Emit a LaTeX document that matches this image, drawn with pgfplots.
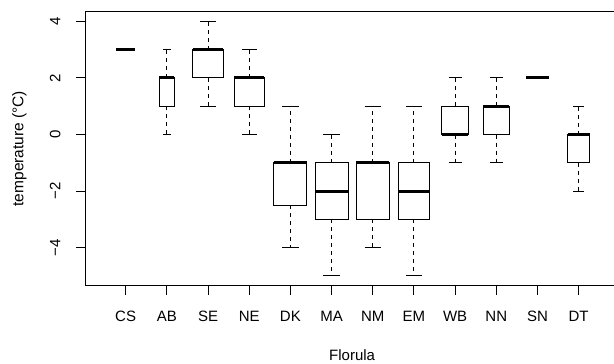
\documentclass[border=0pt]{standalone}
\usepackage{pgfplots}
\pgfplotsset{compat=1.18}
\usepgfplotslibrary{statistics}
\usepackage{fontspec}
\setmainfont{Liberation Sans}
\pgfplotsset{
  rbox/.style={
    black, solid, line width=1pt, mark=none,
    boxplot/draw direction=y,
    boxplot/every box/.style={draw=black, line width=1pt},
    boxplot/every median/.style={black, line width=3pt},
    boxplot/whisker extend=\pgfkeysvalueof{/pgfplots/boxplot/box extend}*0.5,
    boxplot/draw/lower whisker/.code={%
      \draw[black, line width=1pt, dash pattern=on 4pt off 4pt]
        (boxplot cs:\pgfplotsboxplotvalue{lower quartile})
        -- (boxplot cs:\pgfplotsboxplotvalue{lower whisker});
      \draw[black, line width=1pt]
        (boxplot whisker cs:\pgfplotsboxplotvalue{lower whisker},0)
        -- (boxplot whisker cs:\pgfplotsboxplotvalue{lower whisker},1);
    },
    boxplot/draw/upper whisker/.code={%
      \draw[black, line width=1pt, dash pattern=on 4pt off 4pt]
        (boxplot cs:\pgfplotsboxplotvalue{upper quartile})
        -- (boxplot cs:\pgfplotsboxplotvalue{upper whisker});
      \draw[black, line width=1pt]
        (boxplot whisker cs:\pgfplotsboxplotvalue{upper whisker},0)
        -- (boxplot whisker cs:\pgfplotsboxplotvalue{upper whisker},1);
    },
  }
}
\begin{document}
\begin{tikzpicture}[x=1pt,y=1pt]
\useasboundingbox (0,0) rectangle (614,364);
\begin{axis}[
  at={(85.3pt,78pt)}, anchor=south west,
  scale only axis, width=533.7pt, height=274.7pt,
  xmin=0.02, xmax=12.98, ymin=-5.36, ymax=4.36,
  axis line style={line width=1pt, black},
  xtick={1,2,3,4,5,6,7,8,9,10,11,12},
  xticklabels={CS,AB,SE,NE,DK,MA,NM,EM,WB,NN,SN,DT},
  ytick={-4,-2,0,2,4},
  yticklabels={−4,−2,0,2,4},
  tick align=outside,
  major tick length=9pt,
  xtick pos=bottom, ytick pos=left,
  tick style={black, line width=1pt},
  xticklabel style={font=\fontsize{15}{18}\selectfont, anchor=base, inner sep=0pt, yshift=-27pt},
  yticklabel style={font=\fontsize{15}{18}\selectfont, xshift=-16pt, rotate=90, anchor=base, inner sep=0pt},
  xticklabel shift=0pt, yticklabel shift=0pt,
  every axis x label/.style={at={(axis description cs:0.5,-0.273)}, anchor=base, inner sep=0pt, font=\fontsize{15}{18}\selectfont},
  every axis y label/.style={at={(axis description cs:-0.1158,0.5)}, rotate=90, anchor=base, inner sep=0pt, font=\fontsize{15.5}{18}\selectfont},
  xlabel={Florula},
  ylabel={temperature (°C)},
]
\addplot[rbox, boxplot prepared={draw position=1, lower whisker=3, lower quartile=3, median=3, upper quartile=3, upper whisker=3, box extend=0.45}] coordinates {};
\addplot[rbox, boxplot prepared={draw position=2, lower whisker=0, lower quartile=1, median=2, upper quartile=2, upper whisker=3, box extend=0.36}] coordinates {};
\addplot[rbox, boxplot prepared={draw position=3, lower whisker=1, lower quartile=2, median=3, upper quartile=3, upper whisker=4, box extend=0.745}] coordinates {};
\addplot[rbox, boxplot prepared={draw position=4, lower whisker=0, lower quartile=1, median=2, upper quartile=2, upper whisker=3, box extend=0.73}] coordinates {};
\addplot[rbox, boxplot prepared={draw position=5, lower whisker=-4, lower quartile=-2.5, median=-1, upper quartile=-1, upper whisker=1, box extend=0.8}] coordinates {};
\addplot[rbox, boxplot prepared={draw position=6, lower whisker=-5, lower quartile=-3, median=-2, upper quartile=-1, upper whisker=0, box extend=0.8}] coordinates {};
\addplot[rbox, boxplot prepared={draw position=7, lower whisker=-4, lower quartile=-3, median=-1, upper quartile=-1, upper whisker=1, box extend=0.8}] coordinates {};
\addplot[rbox, boxplot prepared={draw position=8, lower whisker=-5, lower quartile=-3, median=-2, upper quartile=-1, upper whisker=1, box extend=0.75}] coordinates {};
\addplot[rbox, boxplot prepared={draw position=9, lower whisker=-1, lower quartile=0, median=0, upper quartile=1, upper whisker=2, box extend=0.64}] coordinates {};
\addplot[rbox, boxplot prepared={draw position=10, lower whisker=-1, lower quartile=0, median=1, upper quartile=1, upper whisker=2, box extend=0.64}] coordinates {};
\addplot[rbox, boxplot prepared={draw position=11, lower whisker=2, lower quartile=2, median=2, upper quartile=2, upper whisker=2, box extend=0.55}] coordinates {};
\addplot[rbox, boxplot prepared={draw position=12, lower whisker=-2, lower quartile=-1, median=0, upper quartile=0, upper whisker=1, box extend=0.54}] coordinates {};
\end{axis}
\end{tikzpicture}
\end{document}
